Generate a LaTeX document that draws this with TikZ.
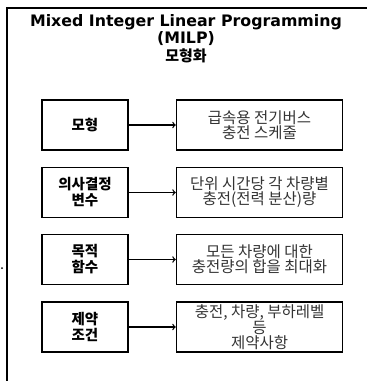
\documentclass[tikz,border=0pt]{standalone}
\usepackage{fontspec}
\setmainfont{DejaVu Sans}
\newfontfamily\kr{Noto Sans CJK KR}
\usetikzlibrary{arrows,positioning}
\tikzstyle{termbox}=[draw,line width=1.6pt,minimum width=86pt,minimum height=50pt,inner sep=2pt,align=center,font=\kr\bfseries\fontsize{14.5}{16}\selectfont]
\tikzstyle{descbox}=[draw,line width=1.6pt,minimum width=166pt,minimum height=50pt,inner sep=2pt,align=center,text=black!80,font=\kr\fontsize{15.5}{15}\selectfont]

\begin{document}
\begin{tikzpicture}[x=1pt,y=-1pt,line width=1.3pt,>=to]
    \useasboundingbox (0,0) rectangle (367,381);
    % frame, cut off at right and bottom
    \draw[line width=2pt] (7,381) -- (7,8) -- (367,8);
    \fill (2,268) circle (1pt);
    \node [align=center,font=\bfseries\fontsize{15.8}{17.5}\selectfont] (title) at (186,38.5)
      {Mixed Integer Linear Programming\\(MILP)\\{\kr\fontsize{15}{17.5}\selectfont 모형화}};

    \node [termbox] (model) at (85,125) {모형};
    \node [termbox] (var) at (85,192.5) {의사결정\\변수};
    \node [termbox] (obj) at (85,259.5) {목적\\함수};
    \node [termbox] (cons) at (85,327) {제약\\조건};

    \node [descbox,right=47pt of model] (modeld) {급속용 전기버스\\충전 스케줄};
    \node [descbox,right=47pt of var] (vard) {단위 시간당 각 차량별\\충전(전력 분산)량};
    \node [descbox,right=47pt of obj] (objd) {모든 차량에 대한\\충전량의 합을 최대화};
    \node [descbox,right=47pt of cons,font=\kr\fontsize{15.5}{11.5}\selectfont] (consd)
      {충전, 차량, 부하레벨\\등\\제약사항};

    \draw [->] (model) -- (modeld);
    \draw [->] (var) -- (vard);
    \draw [->] (obj) -- (objd);
    \draw [->] (cons) -- (consd);
\end{tikzpicture}
\end{document}
